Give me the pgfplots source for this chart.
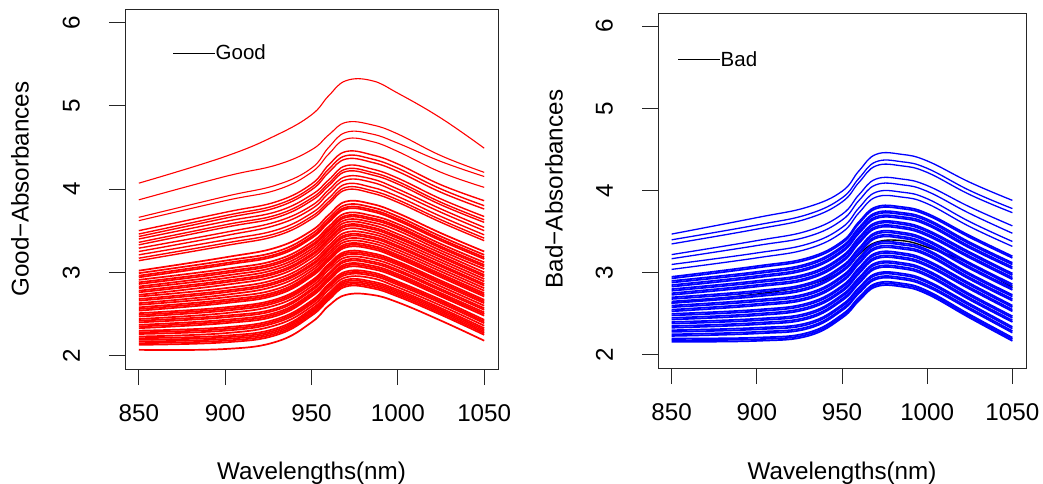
\documentclass[border=0pt]{standalone}
\usepackage{fontspec}
\setmainfont{Liberation Sans}
\usepackage{pgfplots}
\usepackage{pgfplotstable}
\pgfplotsset{compat=1.18}

% one row per spectrum, first data row holds the wavelengths
\pgfplotstableread{
w1 w2 w3 w4 w5 w6 w7 w8 w9 w10
850 900 930 950 960 970 985 1000 1025 1050
4.07 4.39 4.65 4.89 5.12 5.30 5.30 5.15 4.85 4.49
3.87 4.15 4.29 4.47 4.65 4.80 4.77 4.66 4.40 4.20
3.66 3.91 4.05 4.25 4.50 4.68 4.66 4.55 4.33 4.15
3.62 3.86 3.99 4.20 4.42 4.60 4.57 4.45 4.20 4.02
3.50 3.72 3.85 4.06 4.29 4.45 4.41 4.30 4.05 3.86
3.46 3.68 3.81 4.02 4.24 4.40 4.36 4.25 4.00 3.80
3.43 3.65 3.78 3.99 4.20 4.36 4.32 4.21 3.96 3.76
3.40 3.61 3.73 3.93 4.11 4.28 4.24 4.13 3.88 3.67
3.36 3.57 3.69 3.89 4.07 4.24 4.20 4.09 3.84 3.63
3.33 3.54 3.66 3.86 4.04 4.21 4.17 4.06 3.81 3.60
3.29 3.48 3.61 3.80 3.99 4.15 4.12 4.00 3.76 3.54
3.25 3.44 3.57 3.76 3.95 4.11 4.08 3.96 3.72 3.50
3.21 3.39 3.51 3.71 3.89 4.06 4.02 3.91 3.67 3.45
3.17 3.35 3.47 3.67 3.85 4.02 3.98 3.87 3.63 3.41
3.14 3.32 3.44 3.64 3.82 3.99 3.95 3.84 3.60 3.38
3.02 3.18 3.30 3.50 3.69 3.85 3.82 3.71 3.47 3.25
2.99 3.14 3.25 3.46 3.65 3.81 3.78 3.67 3.43 3.21
2.96 3.11 3.22 3.43 3.62 3.78 3.75 3.64 3.40 3.18
2.94 3.09 3.20 3.41 3.60 3.76 3.73 3.62 3.38 3.16
2.91 3.04 3.15 3.36 3.55 3.71 3.68 3.58 3.34 3.12
2.88 3.01 3.12 3.33 3.52 3.68 3.65 3.55 3.31 3.09
2.86 2.99 3.10 3.31 3.50 3.66 3.63 3.53 3.29 3.07
2.83 2.96 3.07 3.28 3.47 3.63 3.60 3.50 3.26 3.04
2.81 2.93 3.04 3.25 3.44 3.60 3.57 3.46 3.23 3.00
2.78 2.90 3.01 3.22 3.41 3.57 3.54 3.43 3.20 2.97
2.76 2.88 2.99 3.20 3.39 3.55 3.52 3.41 3.18 2.95
2.73 2.85 2.96 3.17 3.36 3.52 3.49 3.38 3.15 2.92
2.71 2.81 2.92 3.13 3.32 3.48 3.46 3.35 3.12 2.89
2.68 2.78 2.89 3.10 3.29 3.45 3.43 3.32 3.09 2.86
2.66 2.76 2.87 3.08 3.27 3.43 3.41 3.30 3.07 2.84
2.63 2.73 2.84 3.05 3.24 3.40 3.38 3.27 3.04 2.81
2.61 2.70 2.80 3.02 3.21 3.37 3.35 3.24 3.01 2.78
2.58 2.67 2.77 2.99 3.18 3.34 3.32 3.21 2.98 2.75
2.56 2.65 2.75 2.97 3.16 3.32 3.30 3.19 2.96 2.73
2.54 2.63 2.73 2.95 3.14 3.30 3.28 3.17 2.94 2.71
2.51 2.58 2.68 2.90 3.10 3.25 3.23 3.13 2.90 2.67
2.49 2.56 2.66 2.88 3.08 3.23 3.21 3.11 2.88 2.65
2.47 2.54 2.64 2.86 3.06 3.21 3.19 3.09 2.86 2.63
2.44 2.51 2.61 2.83 3.03 3.18 3.16 3.06 2.83 2.60
2.42 2.48 2.57 2.80 2.99 3.15 3.13 3.03 2.80 2.57
2.40 2.46 2.55 2.78 2.97 3.13 3.11 3.01 2.78 2.55
2.37 2.43 2.52 2.75 2.94 3.10 3.08 2.98 2.75 2.52
2.35 2.41 2.50 2.73 2.92 3.08 3.06 2.96 2.73 2.50
2.33 2.39 2.48 2.71 2.90 3.06 3.04 2.94 2.71 2.48
2.30 2.34 2.44 2.66 2.86 3.01 3.00 2.89 2.67 2.43
2.28 2.32 2.42 2.64 2.84 2.99 2.98 2.87 2.65 2.41
2.26 2.30 2.40 2.62 2.82 2.97 2.96 2.85 2.63 2.39
2.23 2.27 2.37 2.59 2.79 2.94 2.93 2.82 2.60 2.36
2.21 2.24 2.33 2.56 2.75 2.91 2.89 2.79 2.57 2.33
2.19 2.22 2.31 2.54 2.73 2.89 2.87 2.77 2.55 2.31
2.17 2.20 2.29 2.52 2.71 2.87 2.85 2.75 2.53 2.29
2.15 2.18 2.27 2.50 2.69 2.85 2.83 2.73 2.51 2.27
2.13 2.16 2.25 2.48 2.67 2.83 2.81 2.71 2.49 2.25
2.07 2.08 2.17 2.40 2.60 2.73 2.73 2.64 2.42 2.18
}\goodraw
\pgfplotstabletranspose{\good}{\goodraw}

% first spectrum row is the black one under the blue ones
\pgfplotstableread{
w1 w2 w3 w4 w5 w6 w7 w8 w9 w10
850 900 930 950 960 970 985 1000 1025 1050
2.63 2.74 2.85 3.02 3.22 3.37 3.39 3.31 3.11 2.82
3.47 3.67 3.80 3.99 4.24 4.44 4.44 4.36 4.10 3.88
3.40 3.58 3.71 3.91 4.15 4.35 4.35 4.27 4.00 3.78
3.35 3.53 3.66 3.86 4.10 4.30 4.30 4.22 3.95 3.73
3.22 3.39 3.51 3.71 3.95 4.14 4.14 4.06 3.80 3.57
3.17 3.33 3.44 3.64 3.88 4.07 4.07 3.99 3.72 3.48
3.10 3.24 3.35 3.55 3.79 3.98 3.98 3.90 3.62 3.38
3.04 3.18 3.29 3.49 3.73 3.92 3.92 3.84 3.56 3.32
2.95 3.08 3.18 3.38 3.62 3.80 3.80 3.72 3.45 3.20
2.93 3.06 3.16 3.36 3.60 3.78 3.78 3.70 3.43 3.18
2.90 3.01 3.11 3.32 3.55 3.73 3.73 3.65 3.37 3.12
2.88 2.99 3.09 3.30 3.53 3.71 3.71 3.63 3.35 3.10
2.85 2.96 3.06 3.27 3.50 3.68 3.68 3.60 3.32 3.07
2.83 2.94 3.04 3.25 3.48 3.66 3.66 3.58 3.30 3.05
2.80 2.90 2.99 3.20 3.43 3.61 3.61 3.52 3.25 2.99
2.78 2.88 2.97 3.18 3.41 3.59 3.59 3.50 3.23 2.97
2.75 2.85 2.94 3.15 3.38 3.56 3.56 3.47 3.20 2.94
2.73 2.83 2.92 3.13 3.36 3.54 3.54 3.45 3.18 2.92
2.70 2.78 2.87 3.08 3.30 3.49 3.49 3.40 3.12 2.86
2.68 2.76 2.85 3.06 3.28 3.47 3.47 3.38 3.10 2.84
2.65 2.73 2.82 3.03 3.25 3.44 3.44 3.35 3.07 2.81
2.63 2.71 2.80 3.01 3.23 3.42 3.42 3.33 3.05 2.79
2.60 2.67 2.75 2.96 3.18 3.36 3.36 3.28 2.99 2.73
2.58 2.65 2.73 2.94 3.16 3.34 3.34 3.26 2.97 2.71
2.55 2.62 2.70 2.91 3.13 3.31 3.31 3.23 2.94 2.68
2.53 2.60 2.68 2.89 3.11 3.29 3.29 3.21 2.92 2.66
2.50 2.55 2.63 2.84 3.06 3.24 3.24 3.15 2.87 2.60
2.48 2.53 2.61 2.82 3.04 3.22 3.22 3.13 2.85 2.58
2.45 2.50 2.58 2.79 3.01 3.19 3.19 3.10 2.82 2.55
2.43 2.48 2.56 2.77 2.99 3.17 3.17 3.08 2.80 2.53
2.40 2.44 2.51 2.73 2.94 3.12 3.12 3.03 2.74 2.47
2.38 2.42 2.49 2.71 2.92 3.10 3.10 3.01 2.72 2.45
2.35 2.39 2.46 2.68 2.89 3.07 3.07 2.98 2.69 2.42
2.33 2.37 2.44 2.66 2.87 3.05 3.05 2.96 2.67 2.40
2.30 2.33 2.39 2.61 2.82 2.99 2.99 2.90 2.62 2.34
2.28 2.31 2.37 2.59 2.80 2.97 2.97 2.88 2.60 2.32
2.25 2.28 2.34 2.56 2.77 2.94 2.94 2.85 2.57 2.29
2.23 2.26 2.32 2.54 2.75 2.92 2.92 2.83 2.55 2.27
2.20 2.21 2.27 2.49 2.70 2.87 2.87 2.78 2.49 2.21
2.18 2.19 2.25 2.47 2.68 2.85 2.85 2.76 2.47 2.19
2.16 2.17 2.23 2.45 2.66 2.83 2.83 2.74 2.45 2.17
}\badraw
\pgfplotstabletranspose{\bad}{\badraw}

\newcommand\tfont{\fontsize{24.2}{29}\selectfont}
\newcommand\lfont{\fontsize{20.5}{24}\selectfont}

\pgfplotsset{
  rpanel/.style={
    scale only axis,
    xmin=842, xmax=1058, ymin=1.84, ymax=6.16,
    xtick={850,900,950,1000,1050}, xticklabels={850,900,950,1000,1050},
    ytick={2,3,4,5,6}, yticklabels={2,3,4,5,6},
    tick pos=left, tick align=outside,
    major tick length=16pt,
    axis line style={black!85, line width=0.9pt},
    every tick/.style={black!85, line width=0.9pt},
    tick label style={font=\tfont, inner sep=0pt},
    xticklabel style={anchor=north, yshift=-19pt},
    yticklabel style={xshift=-29pt, rotate=90, anchor=south},
    label style={font=\tfont},
    every axis plot/.append style={smooth, tension=0.7},
  },
}

\begin{document}
\begin{tikzpicture}
\useasboundingbox (0pt,0pt) rectangle (1043pt,-484pt);

\begin{axis}[rpanel,
    at={(125pt,-369pt)}, anchor=south west,
    width=373pt, height=360pt,
    xlabel={Wavelengths(nm)}, ylabel={Good−Absorbances},
    xlabel style={at={(axis description cs:0.5,-0.308)}, anchor=base},
    ylabel style={at={(axis description cs:-0.2815,0.5)}, anchor=center},
]
\pgfplotsinvokeforeach{2,...,5}{
  \addplot[red, line width=1.1pt] table[x index=1, y index=#1] {\good};
}
\pgfplotsinvokeforeach{6,...,16}{
  \addplot[red, line width=1.4pt] table[x index=1, y index=#1] {\good};
}
\pgfplotsinvokeforeach{17,...,55}{
  \addplot[red, line width=1.7pt] table[x index=1, y index=#1] {\good};
}
\end{axis}

\begin{axis}[rpanel,
    at={(658pt,-368pt)}, anchor=south west,
    width=368pt, height=355pt,
    xlabel={Wavelengths(nm)}, ylabel={Bad−Absorbances},
    xlabel style={at={(axis description cs:0.5,-0.313)}, anchor=base},
    ylabel style={at={(axis description cs:-0.2826,0.504)}, anchor=center},
]
\addplot[black, line width=1.4pt] table[x index=1, y index=2] {\bad};
\pgfplotsinvokeforeach{3,...,9}{
  \addplot[blue, line width=1.3pt] table[x index=1, y index=#1] {\bad};
}
\pgfplotsinvokeforeach{10,...,42}{
  \addplot[blue, line width=1.7pt] table[x index=1, y index=#1] {\bad};
}
\end{axis}

% legends, drawn the way R draws them: black line, no box
\draw[black, line width=0.9pt] (173pt,-53pt) -- (215pt,-53pt);
\node[anchor=base west, inner sep=0pt, font=\lfont] at (215.5pt,-60pt) {Good};
\draw[black, line width=0.9pt] (678pt,-59pt) -- (720pt,-59pt);
\node[anchor=base west, inner sep=0pt, font=\lfont] at (720.5pt,-66.5pt) {Bad};
\end{tikzpicture}
\end{document}
